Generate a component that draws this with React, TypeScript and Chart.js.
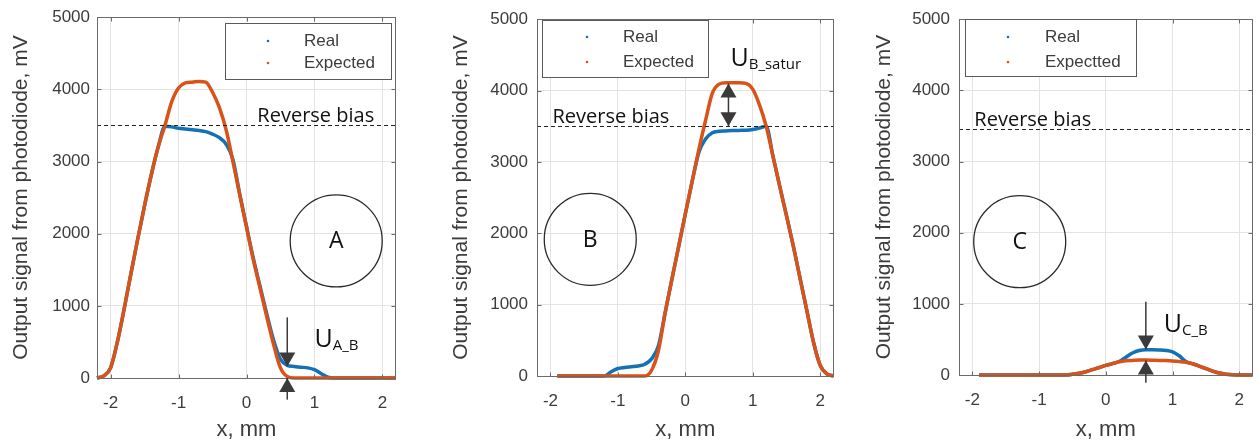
import React, { useEffect, useRef } from "react";
import { Chart, registerables } from "chart.js";

Chart.register(...registerables);

// ---------- data ----------
const X_TICKS = [-2, -1, 0, 1, 2];
const Y_TICKS = [0, 1000, 2000, 3000, 4000, 5000];
const X_MIN = -2.2;
const X_MAX = 2.2;
const Y_MIN = 0;
const Y_MAX = 5000;

const xA = [-2.2, -2.1, -2.0, -1.9, -1.8, -1.7, -1.6, -1.5, -1.4, -1.3, -1.2, -1.1, -1.0, -0.9, -0.8, -0.7, -0.6, -0.5, -0.4, -0.3, -0.2, -0.1, 0.0, 0.1, 0.2, 0.3, 0.4, 0.5, 0.6, 0.7, 0.8, 0.9, 1.0, 1.1, 1.2, 1.3, 1.4, 1.5, 1.6, 1.7, 1.8, 1.9, 2.0, 2.1, 2.2];
const realA = [0, 30, 140, 500, 960, 1450, 1930, 2390, 2820, 3200, 3490, 3480, 3460, 3450, 3440, 3430, 3415, 3380, 3330, 3240, 3030, 2550, 2100, 1660, 1270, 880, 520, 260, 175, 160, 150, 140, 115, 60, 10, 0, 0, 0, 0, 0, 0, 0, 0, 0, 0];
const expectedA = [0, 30, 140, 500, 960, 1450, 1930, 2390, 2820, 3200, 3500, 3830, 4020, 4090, 4100, 4110, 4100, 3960, 3750, 3440, 3000, 2540, 2090, 1640, 1240, 840, 460, 140, 20, 0, 0, 0, 0, 0, 0, 0, 0, 0, 0, 0, 0, 0, 0, 0, 0];

const xB = [-1.9, -1.8, -1.7, -1.6, -1.5, -1.4, -1.3, -1.2, -1.1, -1.0, -0.9, -0.8, -0.7, -0.6, -0.5, -0.4, -0.3, -0.2, -0.1, 0.0, 0.1, 0.2, 0.3, 0.4, 0.5, 0.6, 0.7, 0.8, 0.9, 1.0, 1.1, 1.2, 1.3, 1.4, 1.5, 1.6, 1.7, 1.8, 1.9, 2.0, 2.1, 2.2];
const realB = [0, 0, 0, 0, 0, 0, 0, 0, 60, 105, 120, 130, 140, 165, 240, 420, 880, 1350, 1810, 2270, 2720, 3130, 3320, 3410, 3430, 3435, 3440, 3442, 3445, 3455, 3475, 3500, 3080, 2660, 2250, 1830, 1380, 930, 480, 150, 30, 0];
const expectedB = [0, 0, 0, 0, 0, 0, 0, 0, 0, 0, 0, 0, 0, 0, 80, 350, 880, 1350, 1810, 2270, 2720, 3170, 3580, 3960, 4090, 4110, 4110, 4110, 4100, 4020, 3800, 3500, 3080, 2660, 2250, 1830, 1380, 930, 480, 150, 30, 0];

const xC = [-1.9, -1.8, -1.7, -1.6, -1.5, -1.4, -1.3, -1.2, -1.1, -1.0, -0.9, -0.8, -0.7, -0.6, -0.5, -0.4, -0.3, -0.2, -0.1, 0.0, 0.1, 0.2, 0.3, 0.4, 0.5, 0.6, 0.7, 0.8, 0.9, 1.0, 1.1, 1.2, 1.3, 1.4, 1.5, 1.6, 1.7, 1.8, 1.9, 2.0, 2.1, 2.2];
const realC = [0, 0, 0, 0, 0, 0, 0, 0, 0, 0, 0, 0, 0, 0, 10, 25, 45, 75, 105, 135, 160, 190, 250, 310, 345, 355, 355, 352, 345, 325, 270, 190, 158, 125, 90, 55, 28, 12, 3, 0, 0, 0];
const expectedC = [0, 0, 0, 0, 0, 0, 0, 0, 0, 0, 0, 0, 0, 0, 10, 25, 45, 75, 105, 135, 160, 185, 200, 205, 210, 210, 208, 205, 203, 198, 190, 178, 158, 125, 90, 55, 28, 12, 3, 0, 0, 0];

const LEGEND_A = ["Real", "Expected"];
const LEGEND_B = ["Real", "Expected"];
const LEGEND_C = ["Real", "Expectted"];

const BIAS_A = 3500;
const BIAS_B = 3500;
const BIAS_C = 3450;

// ---------- styles ----------
const W = 1259;
const H = 443;
const AXIS_FONT = "'Liberation Sans', Arial, Helvetica, sans-serif";
const NOTE_FONT = "'Open Sans', 'Noto Sans', sans-serif";
const AXIS_COLOR = "#3c3c3c";
const GRID_COLOR = "#e3e3e3";
const BOX_COLOR = "#6a6a6a";
const REAL_COLOR = "#1372b6";
const EXP_COLOR = "#d95319";
const NOTE_COLOR = "#111111";
const ARROW_COLOR = "#3a3a3a";

type Arrow = { x: number; from: number; to: number; both?: boolean };

interface PanelSpec {
  left: number;
  width: number;
  area: { left: number; right: number; top: number; bottom: number };
  yTitlePad: number;
  yTickPad: number;
  xs: number[];
  real: number[];
  expected: number[];
  legend: string[];
  legendBox: { x: number; y: number; w: number; h: number; marker: number; text: number; rows: number[] };
  bias: number;
  biasTextX: number;
  circle: { x: number; y: number; r: number; label: string };
  uLabel: { x: number; y: number; sub: string };
  arrows: Arrow[];
}

const PANELS: PanelSpec[] = [
  {
    left: 0,
    width: 420,
    area: { left: 97, right: 396, top: 15, bottom: 378 },
    yTitlePad: 9,
    yTickPad: 7,
    xs: xA,
    real: realA,
    expected: expectedA,
    legend: LEGEND_A,
    legendBox: { x: 225, y: 23, w: 166, h: 56, marker: 268, text: 304, rows: [41, 63] },
    bias: BIAS_A,
    biasTextX: 0.16,
    circle: { x: 1.32, y: 1900, r: 46, label: "A" },
    uLabel: { x: 1.0, y: 427, sub: "A_B" },
    arrows: [
      { x: 0.6, from: 840, to: 160 },
      { x: 0.6, from: -300, to: 0 },
    ],
  },
  {
    left: 420,
    width: 420,
    area: { left: 537, right: 837, top: 15, bottom: 376 },
    yTitlePad: 29,
    yTickPad: 9,
    xs: xB,
    real: realB,
    expected: expectedB,
    legend: LEGEND_B,
    legendBox: { x: 122, y: 20, w: 166, h: 57, marker: 167, text: 203, rows: [37, 62] },
    bias: BIAS_B,
    biasTextX: -1.97,
    circle: { x: -1.41, y: 1915, r: 46, label: "B" },
    uLabel: { x: 0.67, y: 4340, sub: "B_satur" },
    arrows: [{ x: 0.64, from: 3500, to: 4100, both: true }],
  },
  {
    left: 840,
    width: 419,
    area: { left: 959, right: 1259, top: 13, bottom: 375 },
    yTitlePad: 32,
    yTickPad: 9,
    xs: xC,
    real: realC,
    expected: expectedC,
    legend: LEGEND_C,
    legendBox: { x: 125, y: 19, w: 171, h: 57, marker: 168, text: 205, rows: [37, 62] },
    bias: BIAS_C,
    biasTextX: -1.97,
    circle: { x: -1.29, y: 1873, r: 46, label: "C" },
    uLabel: { x: 0.87, y: 606, sub: "C_B" },
    arrows: [
      { x: 0.6, from: 1030, to: 360 },
      { x: 0.6, from: -110, to: 205 },
    ],
  },
];

function drawHead(ctx: CanvasRenderingContext2D, x: number, tipY: number, dir: number) {
  // dir = -1 pointing up, +1 pointing down
  const hw = 8;
  const hl = 14;
  ctx.beginPath();
  ctx.moveTo(x, tipY);
  ctx.lineTo(x - hw, tipY - dir * hl);
  ctx.lineTo(x + hw, tipY - dir * hl);
  ctx.closePath();
  ctx.fill();
}

function makeDecor(spec: PanelSpec) {
  return {
    id: "decor" + spec.circle.label,
    afterDatasetsDraw(chart: any) {
      const { ctx, chartArea } = chart;
      const xs = chart.scales.x;
      const ys = chart.scales.y;
      const by = Math.round(ys.getPixelForValue(spec.bias)) + 0.5;
      ctx.save();
      ctx.strokeStyle = "#222";
      ctx.lineWidth = 1;
      ctx.setLineDash([4, 3]);
      ctx.beginPath();
      ctx.moveTo(chartArea.left, by);
      ctx.lineTo(chartArea.right, by);
      ctx.stroke();
      ctx.setLineDash([]);
      ctx.fillStyle = NOTE_COLOR;
      ctx.font = `20px ${NOTE_FONT}`;
      ctx.textAlign = "left";
      ctx.textBaseline = "alphabetic";
      ctx.fillText("Reverse bias", xs.getPixelForValue(spec.biasTextX), by - 4);
      ctx.restore();
    },
    afterDraw(chart: any) {
      const { ctx, chartArea } = chart;
      const xs = chart.scales.x;
      const ys = chart.scales.y;
      ctx.save();
      // axes box with inner ticks
      const l = Math.round(chartArea.left) + 0.5;
      const r = Math.round(chartArea.right) - 0.5;
      const t = Math.round(chartArea.top) + 0.5;
      const b = Math.round(chartArea.bottom) + 0.5;
      ctx.strokeStyle = BOX_COLOR;
      ctx.lineWidth = 1;
      ctx.strokeRect(l, t, r - l, b - t);
      ctx.beginPath();
      X_TICKS.forEach((v) => {
        const px = Math.round(xs.getPixelForValue(v)) + 0.5;
        ctx.moveTo(px, b);
        ctx.lineTo(px, b - 4);
        ctx.moveTo(px, t);
        ctx.lineTo(px, t + 4);
      });
      Y_TICKS.forEach((v) => {
        const py = Math.round(ys.getPixelForValue(v)) + 0.5;
        ctx.moveTo(l, py);
        ctx.lineTo(l + 4, py);
        ctx.moveTo(r, py);
        ctx.lineTo(r - 4, py);
      });
      ctx.stroke();

      // legend
      const lb = spec.legendBox;
      ctx.fillStyle = "#ffffff";
      ctx.fillRect(lb.x, lb.y, lb.w, lb.h);
      ctx.strokeStyle = "#5a5a5a";
      ctx.strokeRect(lb.x + 0.5, lb.y + 0.5, lb.w, lb.h);
      const colors = [REAL_COLOR, EXP_COLOR];
      ctx.font = `17px ${AXIS_FONT}`;
      ctx.textBaseline = "middle";
      ctx.textAlign = "left";
      spec.legend.forEach((name, i) => {
        ctx.fillStyle = colors[i];
        ctx.beginPath();
        ctx.arc(lb.marker, lb.rows[i], 1.3, 0, Math.PI * 2);
        ctx.fill();
        ctx.fillStyle = AXIS_COLOR;
        ctx.fillText(name, lb.text, lb.rows[i]);
      });

      // circle with letter
      const cx = xs.getPixelForValue(spec.circle.x);
      const cy = ys.getPixelForValue(spec.circle.y);
      ctx.strokeStyle = "#2a2a2a";
      ctx.lineWidth = 1.3;
      ctx.beginPath();
      ctx.arc(cx, cy, spec.circle.r, 0, Math.PI * 2);
      ctx.stroke();
      ctx.fillStyle = NOTE_COLOR;
      ctx.font = `23px ${NOTE_FONT}`;
      ctx.textAlign = "center";
      ctx.textBaseline = "middle";
      ctx.fillText(spec.circle.label, cx, cy + 1);

      // U label
      const ux = xs.getPixelForValue(spec.uLabel.x);
      const uy = ys.getPixelForValue(spec.uLabel.y);
      ctx.textAlign = "left";
      ctx.textBaseline = "alphabetic";
      ctx.font = `25px ${NOTE_FONT}`;
      ctx.fillText("U", ux, uy);
      const uw = ctx.measureText("U").width;
      ctx.font = `15px ${NOTE_FONT}`;
      ctx.fillText(spec.uLabel.sub, ux + uw, uy + 3);

      // arrows
      ctx.strokeStyle = ARROW_COLOR;
      ctx.fillStyle = ARROW_COLOR;
      ctx.lineWidth = 1.5;
      spec.arrows.forEach((a) => {
        const px = xs.getPixelForValue(a.x);
        const p0 = ys.getPixelForValue(a.from);
        const p1 = ys.getPixelForValue(a.to);
        ctx.beginPath();
        ctx.moveTo(px, p0);
        ctx.lineTo(px, p1);
        ctx.stroke();
        const dir = p1 > p0 ? 1 : -1;
        drawHead(ctx, px, p1, dir);
        if (a.both) drawHead(ctx, px, p0, -dir);
      });
      ctx.restore();
    },
  };
}

function Panel({ spec }: { spec: PanelSpec }) {
  const ref = useRef<HTMLCanvasElement | null>(null);
  useEffect(() => {
    if (!ref.current) return;
    const a = spec.area;
    const tickFont = { family: AXIS_FONT, size: 17 };
    const xTitleFont = { family: AXIS_FONT, size: 22 };
    const yTitleFont = { family: AXIS_FONT, size: 21 };
    const chart = new Chart(ref.current, {
      type: "line",
      data: {
        datasets: [
          {
            label: spec.legend[0],
            data: spec.xs.map((x, i) => ({ x, y: spec.real[i] })),
            borderColor: REAL_COLOR,
            backgroundColor: REAL_COLOR,
            borderWidth: 3.5,
            pointRadius: 0,
            cubicInterpolationMode: "monotone",
            order: 1,
            clip: 6,
          },
          {
            label: spec.legend[1],
            data: spec.xs.map((x, i) => ({ x, y: spec.expected[i] })),
            borderColor: EXP_COLOR,
            backgroundColor: EXP_COLOR,
            borderWidth: 3.5,
            pointRadius: 0,
            cubicInterpolationMode: "monotone",
            order: 0,
            clip: 6,
          },
        ],
      },
      options: {
        responsive: false,
        animation: false,
        events: [],
        layout: {
          padding: { left: 0, top: a.top, right: spec.left + spec.width - a.right, bottom: 0 },
        },
        plugins: { legend: { display: false }, tooltip: { enabled: false } },
        scales: {
          x: {
            type: "linear",
            min: X_MIN,
            max: X_MAX,
            grid: { color: GRID_COLOR, drawTicks: false },
            border: { display: false },
            ticks: {
              stepSize: 1,
              includeBounds: false,
              padding: 15,
              color: AXIS_COLOR,
              font: tickFont,
              maxRotation: 0,
              callback: (v: any) => String(v),
            },
            title: { display: true, text: "x, mm", color: AXIS_COLOR, font: xTitleFont, padding: { top: 0, bottom: 0 } },
            afterFit: (s: any) => {
              s.height = H - a.bottom;
            },
          },
          y: {
            type: "linear",
            min: Y_MIN,
            max: Y_MAX,
            grid: { color: GRID_COLOR, drawTicks: false },
            border: { display: false },
            ticks: {
              stepSize: 1000,
              padding: spec.yTickPad,
              color: AXIS_COLOR,
              font: tickFont,
              callback: (v: any) => String(v),
            },
            title: {
              display: true,
              text: "Output signal from photodiode, mV",
              color: AXIS_COLOR,
              font: yTitleFont,
              padding: { top: spec.yTitlePad, bottom: 0 },
            },
            afterFit: (s: any) => {
              s.width = a.left - spec.left;
            },
          },
        },
      },
      plugins: [makeDecor(spec)],
    } as any);
    return () => chart.destroy();
  }, [spec]);
  return (
    <div style={{ position: "absolute", left: spec.left, top: 0, width: spec.width, height: H }}>
      <canvas ref={ref} width={spec.width} height={H} style={{ display: "block" }} />
    </div>
  );
}

export default function App() {
  return (
    <div style={{ position: "absolute", left: 0, top: 0, width: W, height: H, background: "#ffffff", overflow: "hidden" }}>
      {PANELS.map((p) => (
        <Panel key={p.circle.label} spec={p} />
      ))}
    </div>
  );
}
